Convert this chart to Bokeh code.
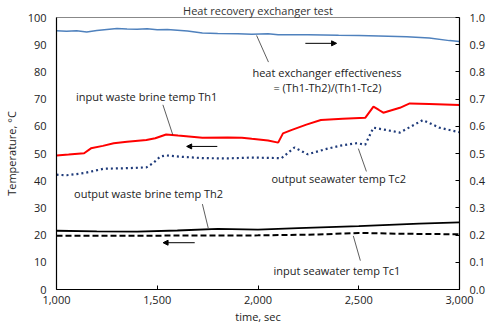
from bokeh.plotting import figure
from bokeh.models import Range1d, LinearAxis, NumeralTickFormatter, FixedTicker, Arrow, NormalHead
from bokeh.core.properties import value
from bokeh.embed import file_html
from bokeh.resources import INLINE

# ---- data ----
t_eff = [1000, 1050, 1100, 1150, 1200, 1250, 1300, 1350, 1400, 1450, 1500, 1550, 1600, 1650, 1724,
         1800, 1900, 1969, 2050, 2100, 2248, 2400, 2500, 2600, 2738, 2850, 2950, 3000]
eff = [0.951, 0.949, 0.951, 0.947, 0.952, 0.956, 0.960, 0.958, 0.957, 0.959, 0.955, 0.956, 0.953,
       0.950, 0.943, 0.941, 0.940, 0.938, 0.940, 0.937, 0.937, 0.935, 0.934, 0.932, 0.929, 0.925,
       0.915, 0.912]

t_th1 = [1000, 1060, 1137, 1171, 1230, 1284, 1350, 1446, 1490, 1544, 1603, 1724, 1850, 1920, 1969,
         2050, 2100, 2124, 2165, 2240, 2312, 2420, 2532, 2573, 2600, 2622, 2704, 2753, 2850, 3000]
th1 = [49.3, 49.6, 50.1, 51.9, 52.8, 53.8, 54.3, 55.0, 55.6, 57.0, 56.6, 55.8, 55.9, 55.8, 55.4,
       54.8, 54.0, 57.4, 58.6, 60.6, 62.3, 62.8, 63.1, 67.2, 66.0, 65.0, 66.8, 68.4, 68.2, 67.8]

t_tc2 = [1000, 1050, 1137, 1234, 1350, 1446, 1480, 1515, 1544, 1620, 1724, 1850, 1969, 2117, 2181,
         2247, 2330, 2410, 2492, 2532, 2573, 2639, 2704, 2818, 2900, 3000]
tc2 = [42.2, 42.0, 42.8, 44.4, 44.6, 44.9, 46.5, 48.9, 49.3, 48.8, 48.3, 48.2, 48.5, 48.3, 52.2,
       49.7, 51.5, 52.9, 53.8, 53.2, 59.5, 58.6, 57.7, 62.3, 59.5, 57.8]

t_th2 = [1000, 1200, 1400, 1600, 1800, 2000, 2200, 2500, 2800, 3000]
th2 = [21.6, 21.4, 21.3, 21.7, 22.3, 22.0, 22.6, 23.3, 24.2, 24.7]

t_tc1 = [1000, 1500, 2000, 2300, 2500, 2700, 3000]
tc1 = [19.8, 19.8, 19.9, 20.2, 20.8, 20.5, 20.3]

x_ticks = [1000, 1500, 2000, 2500, 3000]
y_ticks = [0, 10, 20, 30, 40, 50, 60, 70, 80, 90, 100]
y2_ticks = [0.0, 0.1, 0.2, 0.3, 0.4, 0.5, 0.6, 0.7, 0.8, 0.9, 1.0]

title_text = "Heat recovery exchanger test"
x_label = "time, sec"
y_label = "Temperature, \u00b0C"

# annotation texts
lbl_th1 = "input waste brine temp Th1"
lbl_eff1 = "heat exchanger effectiveness"
lbl_eff2 = "= (Th1-Th2)/(Th1-Tc2)"
lbl_tc2 = "output seawater temp Tc2"
lbl_th2 = "output waste brine temp Th2"
lbl_tc1 = "input seawater temp Tc1"

FONT = "Open Sans"

p = figure(width=487, height=329, output_backend="svg", toolbar_location=None,
           x_range=Range1d(1000, 3000), y_range=Range1d(0, 100),
           min_border_left=52, min_border_right=27, min_border_top=15, min_border_bottom=40,
           title=title_text)
p.extra_y_ranges = {"eff": Range1d(0, 1)}

p.title.align = "center"
p.title.offset = 14
p.title.text_font = FONT
p.title.text_font_size = "11px"
p.title.text_font_style = "normal"
p.title.text_color = "#333333"
p.title.standoff = 0

p.xgrid.visible = False
p.ygrid.visible = False
p.outline_line_color = "#888888"
p.background_fill_color = "white"
p.border_fill_color = "white"

for ax in [p.xaxis[0], p.yaxis[0]]:
    ax.axis_line_color = "black"
    ax.axis_line_width = 1.2
    ax.major_label_text_font = FONT
    ax.major_label_text_font_size = "11px"
    ax.major_label_text_color = "#222222"
    ax.minor_tick_line_color = None
    ax.axis_label_text_font = FONT
    ax.axis_label_text_font_size = "11px"
    ax.axis_label_text_font_style = "normal"
    ax.axis_label_text_color = "#222222"

p.xaxis[0].ticker = FixedTicker(ticks=x_ticks)
p.xaxis[0].formatter = NumeralTickFormatter(format="0,0")
p.xaxis[0].major_tick_in = 4
p.xaxis[0].major_tick_out = 0
p.xaxis[0].major_label_standoff = 6
p.xaxis[0].axis_label = x_label
p.xaxis[0].axis_label_standoff = 2

p.yaxis[0].ticker = FixedTicker(ticks=y_ticks)
p.yaxis[0].major_tick_in = 0
p.yaxis[0].major_tick_out = 0
p.yaxis[0].major_label_standoff = 10
p.yaxis[0].axis_label = y_label
p.yaxis[0].axis_label_standoff = 6

ax2 = LinearAxis(y_range_name="eff", ticker=FixedTicker(ticks=y2_ticks),
                 formatter=NumeralTickFormatter(format="0.0"))
ax2.axis_line_color = "black"
ax2.axis_line_width = 1.2
ax2.major_tick_in = 4
ax2.major_tick_out = 0
ax2.minor_tick_line_color = None
ax2.major_label_standoff = 10
ax2.major_label_text_font = FONT
ax2.major_label_text_font_size = "11px"
ax2.major_label_text_color = "#222222"
p.add_layout(ax2, "right")

# ---- series ----
p.line(t_eff, eff, y_range_name="eff", line_color="#4f81bd", line_width=1.5)
p.line(t_th1, th1, line_color="#ff0000", line_width=2)
p.line(t_tc2, tc2, line_color="#1f3b7a", line_width=2.2, line_dash="2 3")
p.line(t_th2, th2, line_color="black", line_width=1.8)
p.line(t_tc1, tc1, line_color="black", line_width=2, line_dash="6 3")

# ---- annotations ----
txt_kw = dict(text_font=value(FONT), text_font_size="11px", text_color="#222222",
              text_baseline="middle")
p.text(x=[1097], y=[70.8], text=[lbl_th1], text_align="left", **txt_kw)
p.text(x=[2342], y=[79.6], text=[lbl_eff1], text_align="center", **txt_kw)
p.text(x=[2345], y=[74.1], text=[lbl_eff2], text_align="center", **txt_kw)
p.text(x=[2067], y=[40.9], text=[lbl_tc2], text_align="left", **txt_kw)
p.text(x=[1087], y=[35.4], text=[lbl_th2], text_align="left", **txt_kw)
p.text(x=[2077], y=[6.9], text=[lbl_tc1], text_align="left", **txt_kw)

lead_x0 = [1528, 1993, 2498, 1724, 2473]
lead_y0 = [67.9, 93.4, 51.8, 31.4, 19.7]
lead_x1 = [1577, 2052, 2538, 1753, 2508]
lead_y1 = [56.9, 83.6, 43.4, 22.6, 10.6]
p.segment(x0=lead_x0, y0=lead_y0, x1=lead_x1, y1=lead_y1, line_color="#333333", line_width=0.8)

arr_x0 = [1798, 2235, 1686]
arr_x1 = [1646, 2390, 1529]
arr_y = [52.6, 90.5, 17.2]
for xa, xb, ya in zip(arr_x0, arr_x1, arr_y):
    p.add_layout(Arrow(x_start=xa, y_start=ya, x_end=xb, y_end=ya, line_color="black", line_width=1,
                       end=NormalHead(size=5, fill_color="black", line_color="black")))

open("out.html", "w").write(file_html(p, INLINE))
